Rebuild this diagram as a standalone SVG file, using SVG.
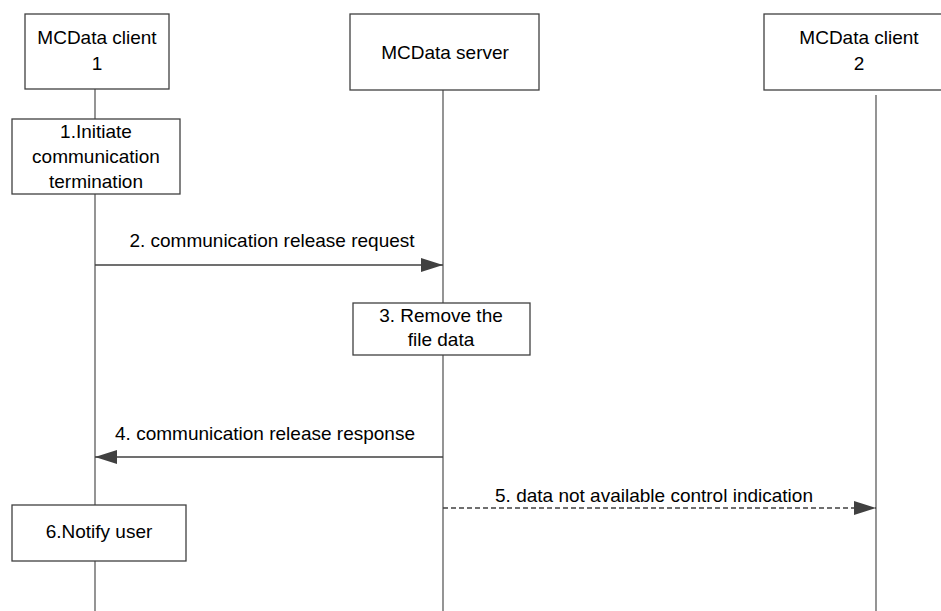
<svg xmlns="http://www.w3.org/2000/svg" width="941" height="611" viewBox="0 0 941 611">
<style>
  .box { fill: #ffffff; stroke: #404040; stroke-width: 1.3; }
  .life { stroke: #7a7a7a; stroke-width: 1.6; fill: none; }
  .msg { stroke: #404040; stroke-width: 1.3; fill: none; }
  .dash { stroke-dasharray: 5 3; }
  .t { font-family: "Liberation Sans", Arial, sans-serif; font-size: 19px; fill: #000000; text-anchor: middle; }
  .lbl { font-family: "Liberation Sans", Arial, sans-serif; font-size: 19px; fill: #000000; text-anchor: middle; }
</style>
<defs>
  <marker id="ah" markerUnits="userSpaceOnUse" markerWidth="22" markerHeight="16" refX="22" refY="8" orient="auto">
    <path d="M0,1 L22,8 L0,15 Z" fill="#404040"/>
  </marker>
</defs>
<rect x="0" y="0" width="941" height="611" fill="#ffffff"/>
<g id="lifelines">
  <line class="life" x1="95" y1="89" x2="95" y2="611"/>
  <line class="life" x1="443" y1="90" x2="443" y2="611"/>
  <line class="life" x1="876" y1="95" x2="876" y2="611"/>
</g>
<g id="connectors">
  <line class="msg" x1="95" y1="265" x2="443" y2="265" marker-end="url(#ah)"/>
  <text class="lbl" x="272" y="247">2. communication release request</text>
  <line class="msg" x1="443" y1="457" x2="95" y2="457" marker-end="url(#ah)"/>
  <text class="lbl" x="265" y="440">4. communication release response</text>
  <line class="msg dash" x1="443" y1="508" x2="876" y2="508" marker-end="url(#ah)"/>
  <text class="lbl" x="654" y="502">5. data not available control indication</text>
</g>
<g id="client1">
  <rect class="box" x="25" y="14" width="144" height="75"/>
  <text class="t" x="97" y="44">MCData client</text>
  <text class="t" x="97" y="70">1</text>
</g>
<g id="server">
  <rect class="box" x="350" y="14" width="189" height="76"/>
  <text class="t" x="445" y="59">MCData server</text>
</g>
<g id="client2">
  <rect class="box" x="764" y="14" width="190" height="76"/>
  <text class="t" x="859" y="44">MCData client</text>
  <text class="t" x="859" y="70">2</text>
</g>
<g id="step1">
  <rect class="box" x="12" y="119" width="168" height="75"/>
  <text class="t" x="96" y="138">1.Initiate</text>
  <text class="t" x="96" y="163">communication</text>
  <text class="t" x="96" y="188">termination</text>
</g>
<g id="step3">
  <rect class="box" x="353" y="303" width="177" height="52"/>
  <text class="t" x="441" y="322">3. Remove the</text>
  <text class="t" x="441" y="346">file data</text>
</g>
<g id="step6">
  <rect class="box" x="12" y="505" width="174" height="56"/>
  <text class="t" x="99" y="538">6.Notify user</text>
</g>
</svg>
